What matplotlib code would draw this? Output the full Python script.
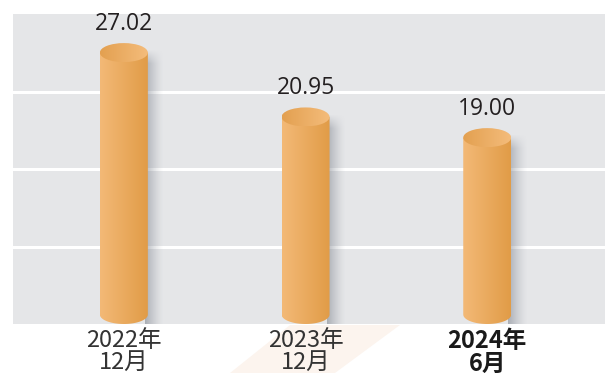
import numpy as np
import matplotlib.pyplot as plt
from matplotlib.path import Path
from matplotlib.patches import PathPatch, Ellipse, Polygon
from matplotlib.colors import to_rgb

periods = ['2022年\n12月', '2023年\n12月', '2024年\n6月']
values = [27.02, 20.95, 19.00]
bold_last = True

W, H = 606, 373
fig = plt.figure(figsize=(W / 100, H / 100), dpi=100)
fig.patch.set_facecolor('white')

# faint peach stripe behind the bottom labels
stripe = [(230, 373), (335, 373), (400, 325), (290, 325)]
fig.patches.append(Polygon([(px / W, (H - py) / H) for px, py in stripe],
                           closed=True, transform=fig.transFigure,
                           facecolor='#fcf4ee', edgecolor='none', zorder=0))

ax = fig.add_axes([13 / W, (H - 324) / H, 592 / W, 310 / H])
ax.set_zorder(2)
ax.set_facecolor('#e5e6e8')
x_lo, x_hi = -0.61, 2.648
y_lo, y_hi = 1.42, 30.66
for s in ax.spines.values():
    s.set_visible(False)
ax.set_xticks([])
ax.set_yticks([])
for gy in np.linspace(y_lo, y_hi, 5)[1:-1]:
    ax.axhline(gy, color='white', lw=2.2, zorder=1)

px_x = 592 / (x_hi - x_lo)
px_y = 310 / (y_hi - y_lo)
hw = 24 / px_x      # half bar width
ry = 9.5 / px_y     # ellipse half height


def hgrad(c0, c1, n=64):
    a, b = np.array(to_rgb(c0)), np.array(to_rgb(c1))
    t = np.linspace(0, 1, n)[None, :, None]
    return a + (b - a) * t


for i, v in enumerate(values):
    x = i
    yb = y_lo + ry

    # soft shadow on the right, fading out near the cap
    nx, ny = 40, 200
    top = v + 0.3 * ry
    sh = np.zeros((ny, nx, 4))
    sh[..., :3] = (0.52, 0.54, 0.58)
    ax_fade = np.linspace(0.7, 0, nx) ** 1.4
    ys = np.linspace(top, y_lo, ny)
    v_fade = np.clip((top - ys) / (14 / px_y), 0, 1)
    sh[..., 3] = v_fade[:, None] * ax_fade[None, :]
    ax.imshow(sh, extent=[x + hw - 3 / px_x, x + hw + 16 / px_x, y_lo, top],
              aspect='auto', interpolation='bilinear', zorder=2)

    # cylinder body with rounded bottom
    t = np.linspace(np.pi, 2 * np.pi, 60)
    pts = [(x - hw, v), (x - hw, yb)]
    pts += list(zip(x + hw * np.cos(t), yb + ry * np.sin(t)))
    pts += [(x + hw, v), (x - hw, v)]
    body = PathPatch(Path(pts), facecolor='none', edgecolor='none')
    ax.add_patch(body)
    im = ax.imshow(hgrad('#f3b977', '#e19c47'), extent=[x - hw, x + hw, y_lo, v],
                   aspect='auto', interpolation='bilinear', zorder=3)
    im.set_clip_path(body)

    # top cap
    cap = Ellipse((x, v), 2 * hw, 2 * ry, facecolor='none', edgecolor='none')
    ax.add_patch(cap)
    im2 = ax.imshow(hgrad('#e3a050', '#f4bc7b'), extent=[x - hw, x + hw, v - ry, v + ry],
                    aspect='auto', interpolation='bilinear', zorder=4)
    im2.set_clip_path(cap)

    ax.annotate(f'{v:.2f}', (x, v + ry), xytext=(0, 9.5), textcoords='offset points',
                ha='center', va='baseline', fontsize=16.5, family='Open Sans',
                color='#231f20')

    is_bold = bold_last and i == len(values) - 1
    ax.annotate(periods[i], (x, 0), xycoords=('data', 'axes fraction'),
                xytext=(0, -3.5), textcoords='offset points', ha='center', va='top',
                fontsize=17, linespacing=0.95,
                family=['Noto Sans CJK SC', 'DejaVu Sans'],
                fontweight='bold' if is_bold else 'normal',
                color='#1a1a1a' if is_bold else '#333333', annotation_clip=False)

ax.set_xlim(x_lo, x_hi)
ax.set_ylim(y_lo, y_hi)

fig.savefig('out.png', dpi=100)
